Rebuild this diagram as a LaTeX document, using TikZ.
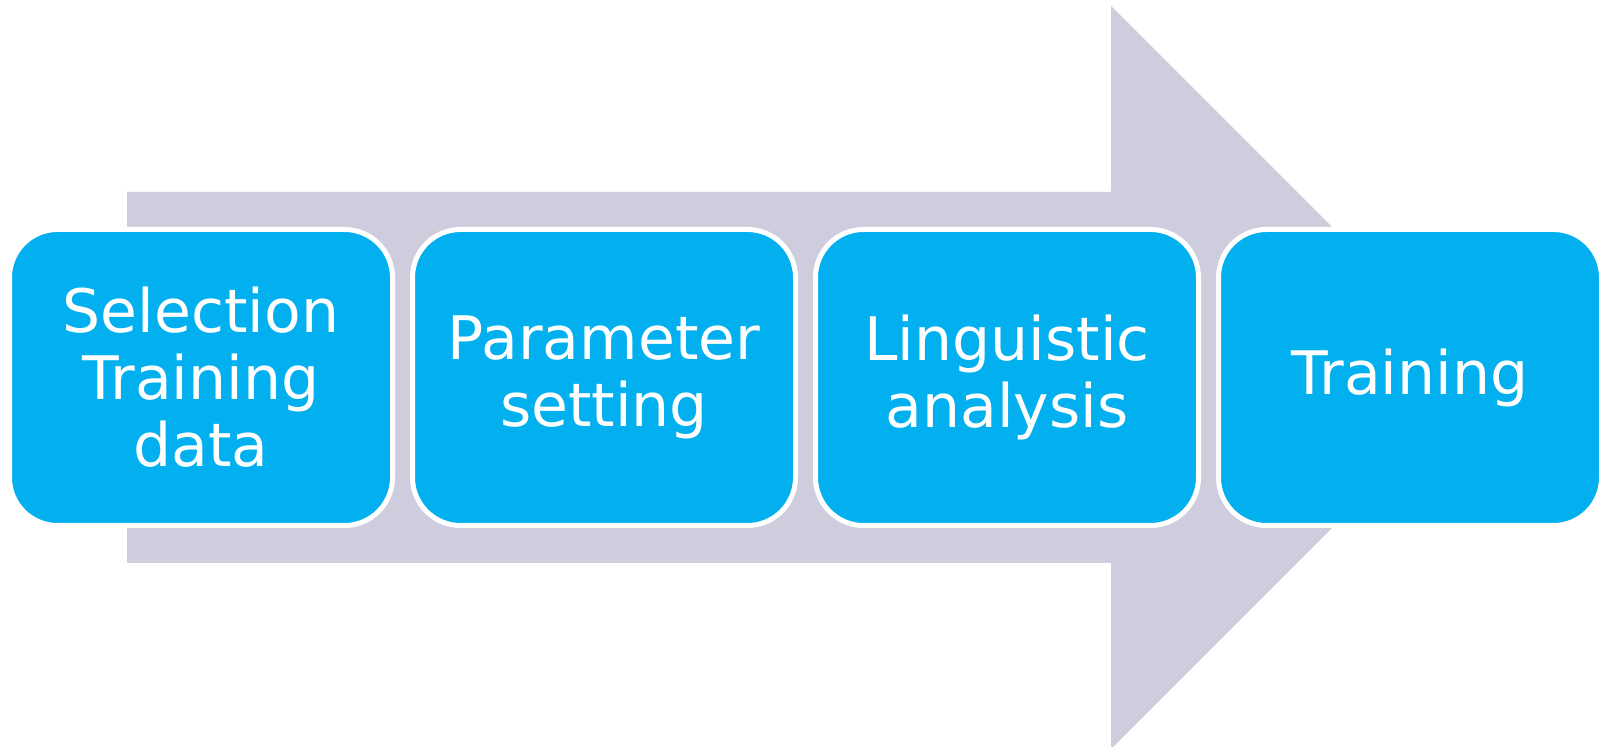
\documentclass[tikz,border=0pt]{standalone}
\usepackage{fontspec}
\setmainfont{DejaVu Sans}
\definecolor{arrowgray}{RGB}{206,205,222}
\definecolor{boxblue}{RGB}{2,176,240}
\begin{document}
\begin{tikzpicture}[x=0.5pt,y=-0.5pt,
  stepbox/.style={draw=white, line width=2.5pt, fill=boxblue, rounded corners=24pt,
    minimum width=191.5pt, minimum height=148pt, inner sep=0pt, text=white,
    font=\fontsize{30}{33.5}\selectfont, align=center}]
\useasboundingbox (0,0) rectangle (1600,747);
\fill[arrowgray] (127,192) -- (1111,192) -- (1111,6) -- (1482.5,377.5) -- (1111,749) -- (1111,563) -- (127,563) -- cycle;
\node[stepbox] (b1) at (201,377.5) {Selection\\Training\\data};
\node[stepbox] (b2) at (604,377.5) {Parameter\\setting};
\node[stepbox] (b3) at (1007,377.5) {Linguistic\\analysis};
\node[stepbox] (b4) at (1410,377.5) {Training};
\end{tikzpicture}
\end{document}
